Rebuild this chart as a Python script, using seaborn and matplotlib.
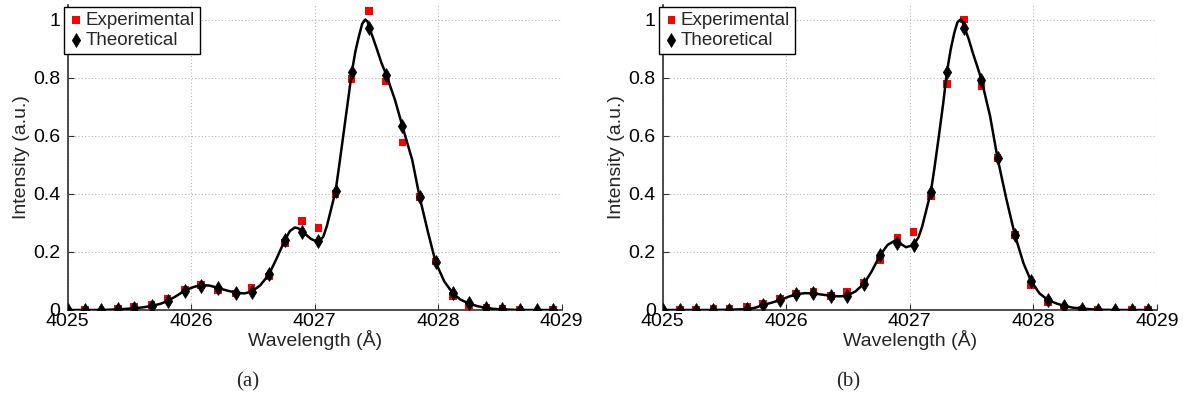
import numpy as np
import pandas as pd
import matplotlib
matplotlib.use("Agg")
import matplotlib.pyplot as plt
import seaborn as sns

# ---------------- data ----------------
wavelength = [4025.00, 4025.14, 4025.27, 4025.41, 4025.54, 4025.68, 4025.81, 4025.95,
              4026.08, 4026.22, 4026.36, 4026.49, 4026.63, 4026.76, 4026.90, 4027.03,
              4027.17, 4027.30, 4027.44, 4027.58, 4027.71, 4027.85, 4027.98, 4028.12,
              4028.25, 4028.39, 4028.52, 4028.66, 4028.80, 4028.93]

theo_a = [0.000, 0.000, 0.000, 0.002, 0.006, 0.014, 0.031, 0.067,
          0.084, 0.075, 0.060, 0.063, 0.123, 0.241, 0.269, 0.237,
          0.410, 0.821, 0.970, 0.810, 0.633, 0.389, 0.164, 0.060,
          0.023, 0.007, 0.002, 0.000, 0.000, 0.000]
exp_a = [None, 0.002, None, 0.003, 0.010, 0.018, 0.040, 0.071,
         0.086, 0.069, 0.057, 0.077, 0.115, 0.230, 0.306, 0.283,
         0.400, 0.795, 1.029, 0.786, 0.576, 0.389, 0.167, 0.049,
         0.014, 0.006, 0.003, 0.001, None, 0.001]

theo_b = [0.000, 0.000, 0.000, 0.000, 0.001, 0.003, 0.017, 0.034,
          0.054, 0.057, 0.049, 0.049, 0.091, 0.189, 0.232, 0.224,
          0.406, 0.818, 0.971, 0.793, 0.523, 0.259, 0.101, 0.034,
          0.014, 0.005, 0.001, 0.000, 0.000, 0.000]
exp_b = [None, 0.002, 0.002, 0.003, 0.005, 0.010, 0.022, 0.040,
         0.057, 0.061, 0.049, 0.061, 0.092, 0.172, 0.249, 0.269,
         0.393, 0.777, 1.000, 0.772, 0.523, 0.259, 0.086, 0.028,
         0.008, 0.002, 0.001, None, 0.002, 0.000]

# fitted curve
curve_x_a = [4025.00, 4025.14, 4025.27, 4025.41, 4025.54, 4025.61, 4025.68, 4025.75,
             4025.81, 4025.88, 4025.95, 4026.02, 4026.08, 4026.15, 4026.22, 4026.29,
             4026.36, 4026.43, 4026.49, 4026.56, 4026.63, 4026.69, 4026.76, 4026.80,
             4026.84, 4026.87, 4026.90, 4026.97, 4027.03, 4027.07, 4027.10, 4027.17,
             4027.20, 4027.235, 4027.27, 4027.30, 4027.33, 4027.36, 4027.385, 4027.41,
             4027.43, 4027.44, 4027.47, 4027.505, 4027.54, 4027.58, 4027.65, 4027.71,
             4027.75, 4027.79, 4027.85, 4027.92, 4027.98, 4028.05, 4028.12, 4028.18,
             4028.25, 4028.32, 4028.39, 4028.45, 4028.52, 4028.66, 4028.80, 4028.93]
curve_y_a = [0.000, 0.000, 0.000, 0.002, 0.006, 0.009, 0.014, 0.021,
             0.031, 0.048, 0.067, 0.079, 0.086, 0.084, 0.076, 0.067,
             0.060, 0.057, 0.063, 0.085, 0.122, 0.175, 0.241, 0.272,
             0.284, 0.281, 0.270, 0.245, 0.233, 0.252, 0.290, 0.410,
             0.500, 0.610, 0.720, 0.815, 0.890, 0.945, 0.985, 1.000,
             0.992, 0.975, 0.940, 0.897, 0.852, 0.810, 0.724, 0.634,
             0.575, 0.517, 0.389, 0.264, 0.164, 0.098, 0.057, 0.036,
             0.022, 0.013, 0.007, 0.004, 0.002, 0.000, 0.000, 0.000]

curve_x_b = [4025.00, 4025.14, 4025.27, 4025.41, 4025.54, 4025.68, 4025.75, 4025.81,
             4025.88, 4025.95, 4026.02, 4026.08, 4026.15, 4026.22, 4026.29, 4026.36,
             4026.43, 4026.49, 4026.56, 4026.63, 4026.69, 4026.76, 4026.82, 4026.88,
             4026.90, 4026.97, 4027.03, 4027.07, 4027.10, 4027.17, 4027.20, 4027.235,
             4027.27, 4027.30, 4027.33, 4027.36, 4027.385, 4027.41, 4027.425, 4027.44,
             4027.475, 4027.51, 4027.545, 4027.58, 4027.65, 4027.71, 4027.78, 4027.85,
             4027.92, 4027.98, 4028.05, 4028.12, 4028.19, 4028.25, 4028.32, 4028.39,
             4028.45, 4028.52, 4028.66, 4028.80, 4028.93]
curve_y_b = [0.000, 0.000, 0.000, 0.000, 0.001, 0.003, 0.008, 0.017,
             0.025, 0.034, 0.046, 0.054, 0.058, 0.057, 0.053, 0.049,
             0.047, 0.049, 0.064, 0.091, 0.132, 0.189, 0.224, 0.239,
             0.235, 0.216, 0.224, 0.250, 0.287, 0.406, 0.490, 0.598,
             0.710, 0.818, 0.895, 0.954, 0.990, 1.000, 0.995, 0.975,
             0.935, 0.885, 0.840, 0.793, 0.667, 0.523, 0.385, 0.259,
             0.161, 0.101, 0.057, 0.034, 0.022, 0.014, 0.008, 0.005,
             0.003, 0.001, 0.000, 0.000, 0.000]

x_ticks = [4025, 4026, 4027, 4028, 4029]
y_ticks = [0, 0.2, 0.4, 0.6, 0.8, 1.0]
y_tick_labels = ["0", "0.2", "0.4", "0.6", "0.8", "1"]
captions = ["(a)", "(b)"]

# ---------------- styling ----------------
sns.set_style("ticks")
plt.rcParams["font.family"] = ["Liberation Sans", "DejaVu Sans"]

fig = plt.figure(figsize=(11.88, 4.0), dpi=100)
W, H = 1188.0, 400.0
ax_a = fig.add_axes([67.5 / W, 1 - 310 / H, 494.2 / W, 305 / H])
ax_b = fig.add_axes([662.7 / W, 1 - 310 / H, 494.2 / W, 305 / H])

panels = [
    (ax_a, theo_a, exp_a, curve_x_a, curve_y_a, 248),
    (ax_b, theo_b, exp_b, curve_x_b, curve_y_b, 848),
]

for (ax, theo, expv, cx, cy, cap_x), cap in zip(panels, captions):
    df_pts = pd.DataFrame({"wl": wavelength, "theo": theo,
                           "exp": pd.array(expv, dtype="Float64")})
    df_exp = df_pts.dropna(subset=["exp"]).astype({"exp": float})
    df_curve = pd.DataFrame({"wl": cx, "val": cy})

    sns.scatterplot(data=df_exp, x="wl", y="exp", ax=ax, marker="s", s=30,
                    color="#ff0000", edgecolor="none", linewidth=0,
                    label="Experimental", zorder=3)
    sns.lineplot(data=df_curve, x="wl", y="val", ax=ax, color="black",
                 linewidth=1.8, sort=False, estimator=None, zorder=4)
    sns.scatterplot(data=df_pts, x="wl", y="theo", ax=ax, marker="d", s=50,
                    color="black", edgecolor="black", linewidth=0.5,
                    label="Theoretical", zorder=5)

    ax.set_xlim(4025, 4029)
    ax.set_ylim(0, 1.05)
    ax.set_xticks(x_ticks)
    ax.set_xticklabels([str(t) for t in x_ticks])
    ax.set_yticks(y_ticks)
    ax.set_yticklabels(y_tick_labels)

    ax.grid(True, linestyle=(0, (1, 2)), color="#b8b8b8", linewidth=0.8)
    for side in ["top", "right"]:
        ax.spines[side].set_visible(False)
    for side in ["left", "bottom"]:
        ax.spines[side].set_color("#303030")
        ax.spines[side].set_linewidth(1.2)
    ax.tick_params(axis="both", direction="in", length=4, width=0.8,
                   color="#303030", labelsize=14, labelcolor="black")
    ax.tick_params(axis="x", pad=2)
    ax.tick_params(axis="y", pad=5)

    ax.set_xlabel("Wavelength (Å)", fontsize=14, va="center")
    ax.xaxis.set_label_coords(0.5, -0.098)
    ax.set_ylabel("Intensity (a.u.)", fontsize=14, va="center")
    ax.yaxis.set_label_coords(-0.0925, 0.5)

    handles, labels = ax.get_legend_handles_labels()
    leg = ax.legend(handles, labels, loc="upper left",
                    bbox_to_anchor=(-0.007, 0.993), borderaxespad=0,
                    fontsize=13.5, frameon=True, fancybox=False,
                    edgecolor="black", framealpha=1, borderpad=0.25,
                    handlelength=0.8, handletextpad=0.1, labelspacing=0.17,
                    scatterpoints=1)
    leg.get_frame().set_linewidth(1.0)
    leg.set_zorder(10)

    fig.text(cap_x / W, 1 - 382 / H, cap, ha="center", va="center",
             fontsize=15, family=["Liberation Serif", "DejaVu Serif"])

fig.savefig("out.png", dpi=100)
